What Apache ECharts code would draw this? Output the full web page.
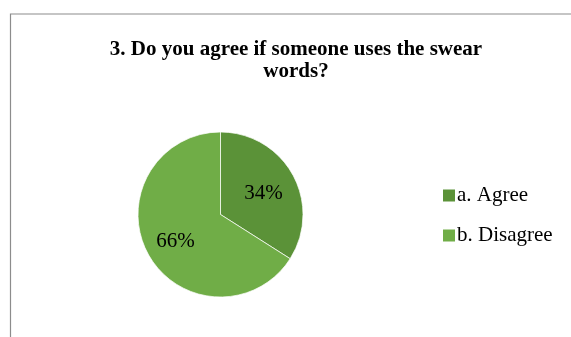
<!DOCTYPE html>
<html>
<head>
<meta charset="utf-8">
<script src="https://cdn.jsdelivr.net/npm/echarts@6/dist/echarts.min.js"></script>
<style>
	html, body { margin: 0; padding: 0; background: #fff; }
	#chart { width: 571px; height: 337px; }
</style>
</head>
<body>
<div id="chart"></div>
<script>
// 图表数据
var titleText = '3. Do you agree if someone uses the swear\nwords?';
var categories = ['a. Agree', 'b. Disagree'];
var percents = [34, 66];
var colors = ['#5b9238', '#70ad47'];

/**
 * 组装饼图数据
 */
function buildData() {
	var list = [];
	for (var i = 0; i < categories.length; i++) {
		list.push({ name: categories[i], value: percents[i], itemStyle: { color: colors[i] } });
	}
	return list;
}

var myChart = echarts.init(document.getElementById('chart'));

var option = {
	animation: false,
	title: {
		text: titleText,
		left: 291,
		top: 34,
		textAlign: 'center',
		textStyle: {
			fontFamily: 'Liberation Serif',
			fontWeight: 'bold',
			fontSize: 21,
			lineHeight: 22,
			color: '#000'
		}
	},
	legend: {
		orient: 'vertical',
		left: 441,
		top: 185,
		padding: 0,
		itemWidth: 14,
		itemHeight: 14,
		itemGap: 19,
		icon: 'rect',
		textStyle: {
			fontFamily: 'Liberation Serif',
			fontSize: 21,
			color: '#000',
			padding: [0, 0, 0, -4]
		},
		data: categories
	},
	graphic: [
		{
			type: 'polyline',
			shape: { points: [[10.5, 337], [10.5, 14], [571, 14]] },
			style: { stroke: '#8c8c8c', lineWidth: 1.2, fill: null }
		}
	],
	series: [
		{
			type: 'pie',
			center: [220.5, 214.5],
			radius: [0, 82.5],
			startAngle: 90,
			clockwise: true,
			silent: true,
			itemStyle: { borderColor: '#fff', borderWidth: 0.7 },
			label: { show: false },
			labelLine: { show: false },
			data: buildData()
		},
		{
			// 透明层，仅用于放置百分比标签
			type: 'pie',
			center: [220.5, 214.5],
			radius: [12, 82.5],
			startAngle: 90,
			clockwise: true,
			silent: true,
			legendHoverLink: false,
			itemStyle: { color: 'rgba(0,0,0,0)', borderWidth: 0 },
			label: {
				show: true,
				position: 'inside',
				formatter: '{c}%',
				fontFamily: 'Liberation Serif',
				fontSize: 21,
				color: '#000',
				offset: [-1, 3]
			},
			labelLine: { show: false },
			data: categories.map(function(name, i) {
				return { name: name + ' ', value: percents[i] };
			})
		}
	]
};

myChart.setOption(option);
</script>
</body>
</html>
